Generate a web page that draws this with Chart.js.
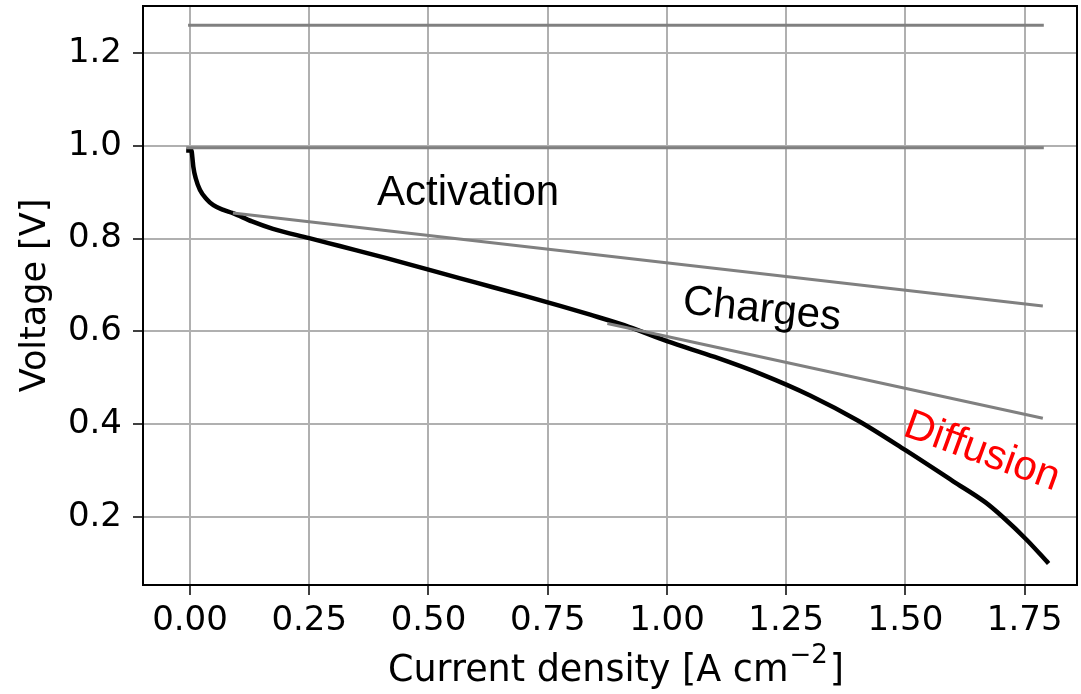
<!DOCTYPE html>
<html>
<head>
<meta charset="utf-8">
<script src="https://cdn.jsdelivr.net/npm/chart.js@4/dist/chart.umd.min.js"></script>
<style>
  html, body { margin: 0; padding: 0; background: #fff; }
  canvas { display: block; }
</style>
</head>
<body>
<canvas id="polCurve" width="1081" height="694"></canvas>
<script>
// polarization curve
var currentDensity = [-0.008, 0.003, 0.005, 0.007, 0.012, 0.021, 0.035, 0.049, 0.07, 0.09, 0.13, 0.174, 0.25, 0.314, 0.412, 0.5, 0.6, 0.7, 0.776, 0.839, 0.92, 1.0, 1.1, 1.2, 1.3, 1.4, 1.5, 1.6, 1.667, 1.704, 1.755, 1.8];
var voltage = [0.99, 0.99, 0.975, 0.955, 0.93, 0.905, 0.885, 0.872, 0.862, 0.855, 0.837, 0.821, 0.801, 0.784, 0.758, 0.733, 0.705, 0.677, 0.655, 0.636, 0.610, 0.579, 0.545, 0.507, 0.462, 0.408, 0.344, 0.277, 0.232, 0.20, 0.15, 0.10];

// guide lines
var reversibleX = [-0.004, 1.79];
var reversibleY = [1.26, 1.26];
var activationX = [-0.008, 1.79];
var activationY = [0.996, 0.996];
var ohmicX = [0.09, 1.788];
var ohmicY = [0.855, 0.655];
var diffusionX = [0.875, 1.788];
var diffusionY = [0.617, 0.413];

// tick labels
var xTicks = [0, 0.25, 0.5, 0.75, 1.0, 1.25, 1.5, 1.75];
var yTicks = [0.2, 0.4, 0.6, 0.8, 1.0, 1.2];

// text labels
var labelTexts = ['Activation', 'Charges', 'Diffusion'];
var labelX = [0.583, 1.199, 1.66];
var labelY = [0.872, 0.646, 0.34];
var labelAngle = [0, 6, 20];
var labelColor = ['#000000', '#000000', '#ff0000'];

// x title pieces: normal, superscript, normal
var xTitleParts = ['Current density [A cm', '\u22122', ']'];

function toPoints(xs, ys) {
    return xs.map(function(x, i) { return { x: x, y: ys[i] }; });
}

function guide(xs, ys) {
    return {
        data: toPoints(xs, ys),
        borderColor: '#808080',
        borderWidth: 3,
        pointRadius: 0,
        tension: 0,
        order: 1
    };
}

// 위/오른쪽 테두리 + 글자
var extras = {
    id: 'extras',
    afterDatasetsDraw: function(chart) {
        var ctx = chart.ctx;
        var a = chart.chartArea;
        var xs = chart.scales.x, ys = chart.scales.y;
        ctx.save();
        ctx.strokeStyle = '#000';
        ctx.lineWidth = 2;
        ctx.beginPath();
        ctx.moveTo(a.left, a.top);
        ctx.lineTo(a.right, a.top);
        ctx.lineTo(a.right, a.bottom);
        ctx.stroke();

        ctx.font = '42px "Liberation Sans", Arial, sans-serif';
        ctx.textAlign = 'center';
        for (var i = 0; i < labelTexts.length; i++) {
            ctx.save();
            ctx.translate(xs.getPixelForValue(labelX[i]), ys.getPixelForValue(labelY[i]));
            ctx.rotate(labelAngle[i] * Math.PI / 180);
            ctx.fillStyle = labelColor[i];
            ctx.textBaseline = i === 0 ? 'alphabetic' : 'middle';
            ctx.fillText(labelTexts[i], 0, 0);
            ctx.restore();
        }

        // x축 제목 (윗첨자)
        var big = '36.5px "DejaVu Sans", sans-serif';
        var small = '26px "DejaVu Sans", sans-serif';
        ctx.fillStyle = '#000';
        ctx.textAlign = 'left';
        ctx.textBaseline = 'alphabetic';
        ctx.font = big;
        var w0 = ctx.measureText(xTitleParts[0]).width;
        var w2 = ctx.measureText(xTitleParts[2]).width;
        ctx.font = small;
        var w1 = ctx.measureText(xTitleParts[1]).width + 3;
        var cx = (a.left + a.right) / 2 + 6;
        var x0 = cx - (w0 + w1 + w2) / 2;
        var base = 681;
        ctx.font = big;
        ctx.fillText(xTitleParts[0], x0, base);
        ctx.font = small;
        ctx.fillText(xTitleParts[1], x0 + w0 + 1, base - 18);
        ctx.font = big;
        ctx.fillText(xTitleParts[2], x0 + w0 + w1, base);
        ctx.restore();
    }
};

var tickFont = { family: '"DejaVu Sans", sans-serif', size: 34 };

new Chart(document.getElementById('polCurve').getContext('2d'), {
    type: 'line',
    data: {
        datasets: [
            {
                data: toPoints(currentDensity, voltage),
                borderColor: '#000000',
                borderWidth: 4.5,
                pointRadius: 0,
                cubicInterpolationMode: 'monotone',
                order: 2
            },
            guide(reversibleX, reversibleY),
            guide(activationX, activationY),
            guide(ohmicX, ohmicY),
            guide(diffusionX, diffusionY)
        ]
    },
    options: {
        responsive: false,
        animation: false,
        layout: { padding: { top: 6, right: 4, left: 0, bottom: 0 } },
        plugins: { legend: { display: false }, tooltip: { enabled: false } },
        scales: {
            x: {
                type: 'linear',
                min: -0.0985,
                max: 1.8596,
                afterBuildTicks: function(scale) {
                    scale.ticks = xTicks.map(function(v) { return { value: v }; });
                },
                afterFit: function(scale) {
                    scale.height = 109;
                    scale.paddingLeft = 0;
                    scale.paddingRight = 0;
                },
                grid: { color: '#b0b0b0', lineWidth: 2, tickColor: '#000', tickLength: 10, tickWidth: 1.5 },
                border: { display: true, color: '#000', width: 2 },
                ticks: {
                    color: '#000',
                    font: tickFont,
                    padding: 6,
                    maxRotation: 0,
                    autoSkip: false,
                    callback: function(v) { return Number(v).toFixed(2); }
                },
                title: { display: false }
            },
            y: {
                type: 'linear',
                min: 0.0535,
                max: 1.3013,
                afterBuildTicks: function(scale) {
                    scale.ticks = yTicks.map(function(v) { return { value: v }; });
                },
                afterFit: function(scale) {
                    scale.width = 143;
                    scale.paddingTop = 0;
                    scale.paddingBottom = 0;
                },
                grid: { color: '#b0b0b0', lineWidth: 2, tickColor: '#000', tickLength: 10, tickWidth: 1.5 },
                border: { display: true, color: '#000', width: 2 },
                ticks: {
                    color: '#000',
                    font: tickFont,
                    padding: 11,
                    autoSkip: false,
                    callback: function(v) { return Number(v).toFixed(1); }
                },
                title: {
                    display: true,
                    text: 'Voltage [V]',
                    color: '#000',
                    font: { family: '"DejaVu Sans", sans-serif', size: 35 },
                    padding: { top: 15, bottom: 0 }
                }
            }
        }
    },
    plugins: [extras]
});
</script>
</body>
</html>
